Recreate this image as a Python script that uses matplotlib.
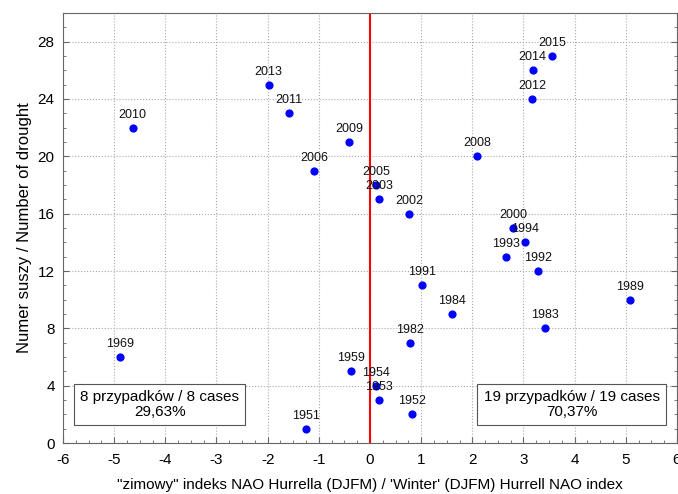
import matplotlib.pyplot as plt
from matplotlib.ticker import MultipleLocator

plt.rcParams['font.family'] = ['Liberation Sans', 'DejaVu Sans']
plt.rcParams['axes.unicode_minus'] = False

# rok, indeks NAO (DJFM), numer suszy
lata = [2010, 2013, 2011, 2009, 2006, 2005, 2003, 1969, 1959, 1951,
        2015, 2014, 2012, 2008, 2002, 2000, 1994, 1993, 1992, 1991,
        1989, 1984, 1983, 1982, 1954, 1953, 1952]
nao = [-4.64, -1.98, -1.58, -0.41, -1.09, 0.12, 0.18, -4.89, -0.38, -1.26,
       3.56, 3.18, 3.17, 2.09, 0.76, 2.80, 3.03, 2.66, 3.28, 1.02,
       5.08, 1.60, 3.42, 0.79, 0.11, 0.18, 0.83]
numer = [22, 25, 23, 21, 19, 18, 17, 6, 5, 1,
         27, 26, 24, 20, 16, 15, 14, 13, 12, 11,
         10, 9, 8, 7, 4, 3, 2]

tekst_lewy = "8 przypadków / 8 cases\n29,63%"
tekst_prawy = "19 przypadków / 19 cases\n70,37%"

fig = plt.figure(figsize=(6.78, 4.94), dpi=100)
ax = fig.add_axes([0.0929, 0.1032, 0.9056, 0.8705])

ax.grid(True, color='#aaaaaa', linestyle=':', linewidth=0.8, zorder=0)
ax.axvline(0, color='red', linewidth=1.5, zorder=2)
ax.scatter(nao, numer, s=24, color='blue', zorder=3)

for rok, xv, yv in zip(lata, nao, numer):
    ax.annotate(str(rok), (xv, yv), xytext=(0, 5), textcoords='offset points',
                ha='center', va='bottom', fontsize=9, color='#111111', zorder=4)

ax.set_xlim(-6, 6)
ax.set_ylim(0, 30)
ax.xaxis.set_major_locator(MultipleLocator(1))
ax.xaxis.set_minor_locator(MultipleLocator(0.25))
ax.set_yticks(range(0, 29, 4))
ax.yaxis.set_minor_locator(MultipleLocator(1))
ax.tick_params(which='both', direction='in', left=True, right=True,
               bottom=True, top=False, labelsize=11, color='#666666')
ax.tick_params(which='major', length=4)
ax.tick_params(which='minor', length=2.5)
ax.tick_params(axis='x', pad=7)
ax.tick_params(axis='y', pad=6)
for s in ax.spines.values():
    s.set_color('#666666')

ax.set_xlabel("\"zimowy\" indeks NAO Hurrella (DJFM) / 'Winter' (DJFM) Hurrell NAO index",
              fontsize=11, labelpad=8)
ax.set_ylabel("Numer suszy / Number of drought", fontsize=12, labelpad=4)

box = dict(boxstyle='square,pad=0.4', facecolor='white', edgecolor='#555555', linewidth=0.8)
ax.text(-4.11, 2.69, tekst_lewy, ha='center', va='center', fontsize=11,
        linespacing=1.05, bbox=box, zorder=5)
ax.text(3.94, 2.69, tekst_prawy, ha='center', va='center', fontsize=11,
        linespacing=1.05, bbox=box, zorder=5)

fig.savefig('out.png', dpi=100)
